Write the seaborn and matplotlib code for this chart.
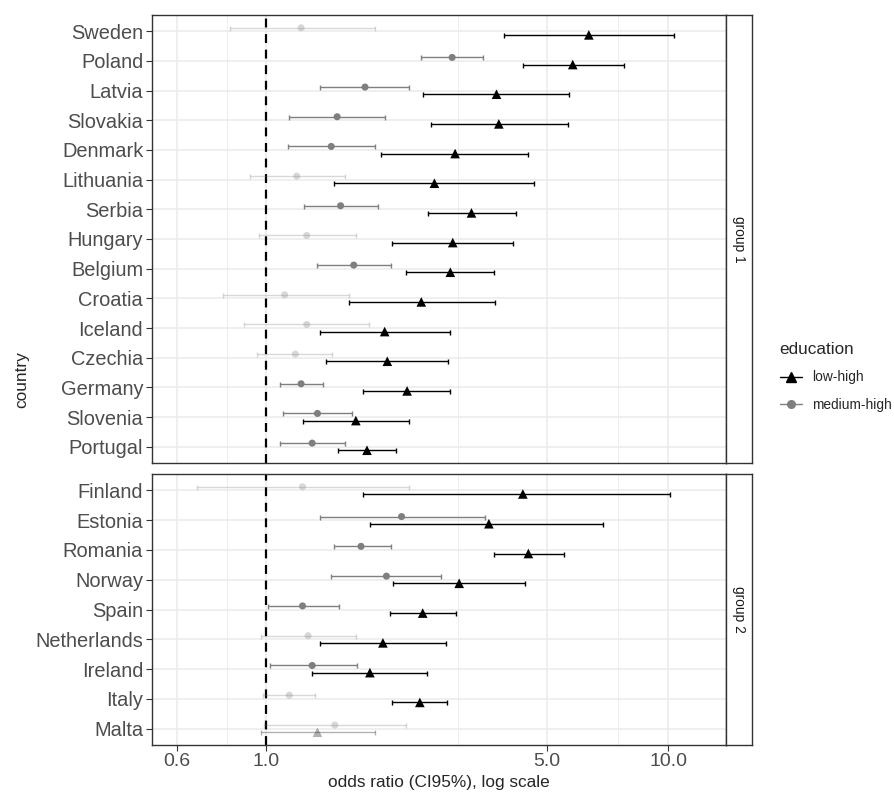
import matplotlib
matplotlib.use("Agg")
import matplotlib.pyplot as plt
from matplotlib.lines import Line2D
from matplotlib.ticker import NullFormatter, FixedLocator
import pandas as pd
import seaborn as sns

# odds ratios (CI95%)
group1_countries = ["Sweden", "Poland", "Latvia", "Slovakia", "Denmark", "Lithuania", "Serbia",
                    "Hungary", "Belgium", "Croatia", "Iceland", "Czechia", "Germany", "Slovenia", "Portugal"]
g1_low_or = [6.35, 5.79, 3.74, 3.79, 2.95, 2.62, 3.24, 2.91, 2.87, 2.43, 1.97, 2.00, 2.24, 1.67, 1.78]
g1_low_lo = [3.90, 4.35, 2.45, 2.57, 1.93, 1.47, 2.52, 2.06, 2.23, 1.61, 1.36, 1.41, 1.74, 1.23, 1.51]
g1_low_hi = [10.34, 7.75, 5.68, 5.62, 4.49, 4.63, 4.18, 4.11, 3.68, 3.70, 2.87, 2.84, 2.87, 2.27, 2.10]
g1_med_or = [1.22, 2.90, 1.76, 1.50, 1.45, 1.19, 1.53, 1.26, 1.65, 1.11, 1.26, 1.18, 1.22, 1.34, 1.30]
g1_med_lo = [0.81, 2.42, 1.36, 1.14, 1.13, 0.91, 1.24, 0.96, 1.34, 0.78, 0.88, 0.95, 1.08, 1.10, 1.08]
g1_med_hi = [1.86, 3.47, 2.27, 1.97, 1.86, 1.57, 1.90, 1.67, 2.04, 1.61, 1.80, 1.46, 1.38, 1.63, 1.57]

group2_countries = ["Finland", "Estonia", "Romania", "Norway", "Spain", "Netherlands", "Ireland", "Italy", "Malta"]
g2_low_or = [4.35, 3.58, 4.49, 3.02, 2.45, 1.95, 1.81, 2.41, 1.34]
g2_low_lo = [1.74, 1.81, 3.69, 2.07, 2.03, 1.36, 1.30, 2.06, 0.97]
g2_low_hi = [10.13, 6.89, 5.50, 4.40, 2.97, 2.80, 2.51, 2.82, 1.86]
g2_med_or = [1.23, 2.17, 1.72, 1.99, 1.23, 1.27, 1.30, 1.14, 1.48]
g2_med_lo = [0.67, 1.36, 1.47, 1.45, 1.01, 0.97, 1.02, 0.98, 0.985]
g2_med_hi = [2.27, 3.51, 2.04, 2.72, 1.52, 1.67, 1.68, 1.32, 2.22]

x_breaks = [0.6, 1.0, 5.0, 10.0]
x_minor = [0.8, 3.0, 7.5]
x_labels = ["0.6", "1.0", "5.0", "10.0"]


def make_df(countries, low_or, low_lo, low_hi, med_or, med_lo, med_hi):
    low = pd.DataFrame({"country": countries, "education": "low-high",
                        "OR": low_or, "lo": low_lo, "hi": low_hi})
    med = pd.DataFrame({"country": countries, "education": "medium-high",
                        "OR": med_or, "lo": med_lo, "hi": med_hi})
    df = pd.concat([low, med], ignore_index=True)
    df["pos"] = df["country"].map({c: i for i, c in enumerate(countries)})
    # dodge: medium-high above, low-high below
    df["y"] = df["pos"] + df["education"].map({"low-high": 0.12, "medium-high": -0.12})
    df["sig"] = (df["lo"] > 1) | (df["hi"] < 1)
    return df


df1 = make_df(group1_countries, g1_low_or, g1_low_lo, g1_low_hi, g1_med_or, g1_med_lo, g1_med_hi)
df2 = make_df(group2_countries, g2_low_or, g2_low_lo, g2_low_hi, g2_med_or, g2_med_lo, g2_med_hi)

sns.set_style("white")
plt.rcParams["font.family"] = ["Liberation Sans", "DejaVu Sans"]

colors = {"low-high": "#000000", "medium-high": "#7f7f7f"}
markers = {"low-high": "^", "medium-high": "o"}
msize = {"low-high": 48, "medium-high": 26}

fig = plt.figure(figsize=(8.94, 7.92), dpi=100)
W, H = 894, 792
left, right = 151.5, 726
panels = [(df1, group1_countries, 15, 463, "group 1"), (df2, group2_countries, 474, 745, "group 2")]

axes = []
for df, countries, top, bot, lab in panels:
    ax = fig.add_axes([left / W, 1 - bot / H, (right - left) / W, (bot - top) / H])
    axes.append(ax)
    ax.set_xscale("log")
    ax.set_xlim(0.5175, 13.94)
    ax.set_ylim(len(countries) - 1 + 0.55, -0.55)
    ax.xaxis.set_major_locator(FixedLocator(x_breaks))
    ax.xaxis.set_minor_locator(FixedLocator(x_minor))
    ax.xaxis.set_minor_formatter(NullFormatter())
    ax.set_yticks(range(len(countries)))
    ax.set_yticklabels(countries)
    ax.grid(True, which="major", color="#ebebeb", lw=1.1)
    ax.grid(True, which="minor", axis="x", color="#ebebeb", lw=0.6)
    ax.set_axisbelow(True)
    for s in ax.spines.values():
        s.set_color("#333333")
        s.set_linewidth(1.0)
    ax.axvline(1.0, color="black", ls=(0, (4, 3)), lw=1.6, zorder=2)

    for edu in ["medium-high", "low-high"]:
        for sig in [False, True]:
            sub = df[(df["education"] == edu) & (df["sig"] == sig)]
            if sub.empty:
                continue
            a = 1.0 if sig else 0.3
            ax.errorbar(sub["OR"], sub["y"], xerr=[sub["OR"] - sub["lo"], sub["hi"] - sub["OR"]],
                        fmt="none", ecolor=colors[edu], elinewidth=1.0, capsize=1.8,
                        capthick=1.0, alpha=a, zorder=3)
            sns.scatterplot(data=sub, x="OR", y="y", ax=ax, color=colors[edu], marker=markers[edu],
                            s=msize[edu], alpha=a, edgecolor="none", linewidth=0, zorder=4, legend=False)

    ax.set_xlabel("")
    ax.set_ylabel("")
    ax.tick_params(axis="y", which="major", length=4, width=0.8, color="#333333",
                   labelsize=14.4, labelcolor="#4d4d4d", pad=2, left=True)
    ax.tick_params(axis="x", which="minor", length=0)

    # facet strip
    sax = fig.add_axes([right / W, 1 - bot / H, 26 / W, (bot - top) / H])
    sax.set_xticks([])
    sax.set_yticks([])
    for s in sax.spines.values():
        s.set_color("#333333")
        s.set_linewidth(1.0)
    sax.text(0.5, 0.5, lab, rotation=-90, ha="center", va="center", fontsize=9.9,
             color="#1a1a1a", transform=sax.transAxes)

axes[0].tick_params(axis="x", which="major", length=0, labelbottom=False)
axes[1].set_xticklabels(x_labels)
axes[1].tick_params(axis="x", which="major", length=4, width=0.8, color="#333333",
                    labelsize=14, labelcolor="#4d4d4d", pad=2, bottom=True)

fig.text((left + right) / 2 / W, 1 - 783 / H, "odds ratio (CI95%), log scale",
         ha="center", va="center", fontsize=12.4)
fig.text(22 / W, 1 - 380 / H, "country", rotation=90, ha="center", va="center", fontsize=12.4)

handles = [Line2D([], [], color="black", marker="^", markersize=7, lw=1.0),
           Line2D([], [], color="#7f7f7f", marker="o", markersize=5.5, lw=1.0)]
fig.legend(handles, ["low-high", "medium-high"], title="education", loc="center left",
           bbox_to_anchor=(774 / W, 1 - 377 / H), frameon=False, fontsize=9.9,
           title_fontsize=12.3, handlelength=1.6, handletextpad=0.8, labelspacing=0.95,
           alignment="left", borderaxespad=0)

fig.savefig("out.png", dpi=100)
